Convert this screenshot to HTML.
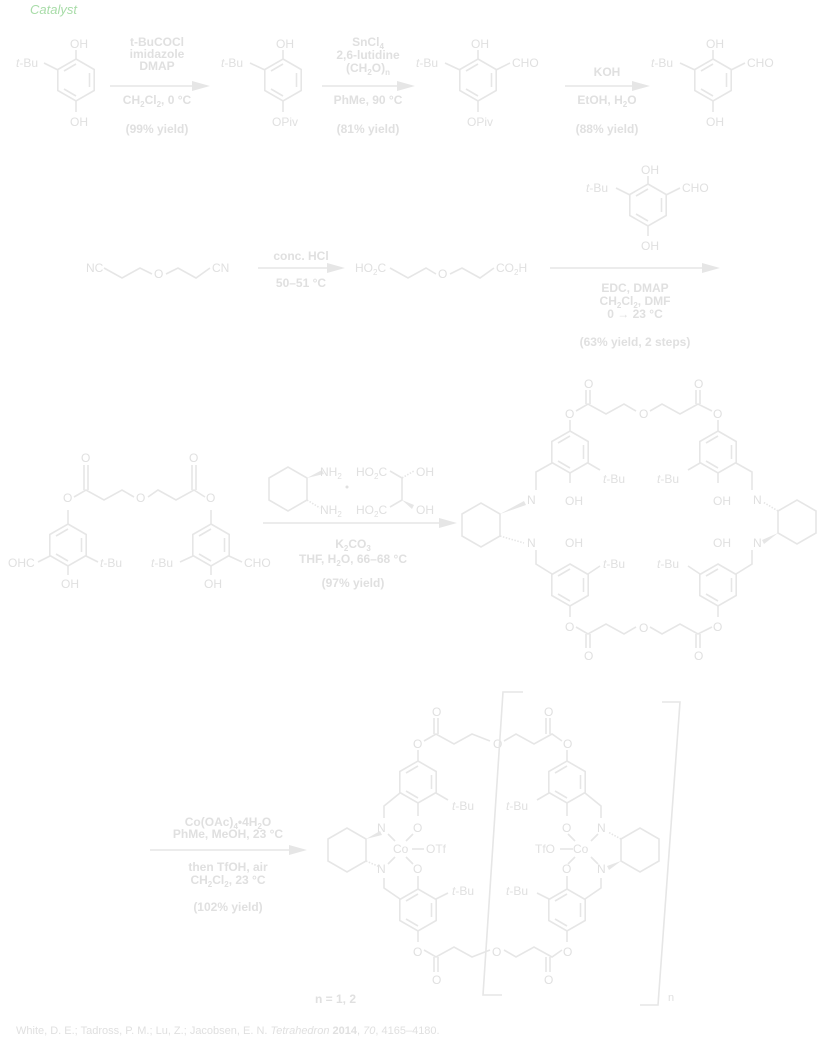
<!DOCTYPE html>
<html><head><meta charset="utf-8"><style>
html,body{margin:0;padding:0;background:#fff;}
svg{display:block}
text{font-family:"Liberation Sans",sans-serif;font-size:12px;fill:#e0e0e0;}
.b{font-weight:bold}
.s{stroke:#e6e6e6;stroke-width:1.6;fill:none}
</style></head><body>
<svg width="825" height="1049" viewBox="0 0 825 1049" xmlns="http://www.w3.org/2000/svg">
<defs>
<g id="hex"><polygon class="s" points="0,-21 18.2,-10.5 18.2,10.5 0,21 -18.2,10.5 -18.2,-10.5"/><line class="s" x1="13.5" y1="-7" x2="13.5" y2="7"/><line class="s" x1="-12" y1="9" x2="0" y2="16"/><line class="s" x1="-12" y1="-9" x2="0" y2="-16"/></g>
<polygon id="chx" class="s" points="-19,-11 0,-22 19,-11 19,11 0,22 -19,11"/>
<g id="arrowhead"><polygon points="0,0 -18,-5 -18,5" fill="#e6e6e6"/></g>
</defs>
<text x="30" y="14" style="font-style:italic;fill:#a8dca8;font-size:13px">Catalyst</text>

<!-- Row 1 -->
<use href="#hex" x="76" y="80"/>
<line class="s" x1="76" y1="59" x2="76" y2="50"/><text x="70" y="48">OH</text>
<line class="s" x1="76" y1="101" x2="76" y2="112"/><text x="70" y="126">OH</text>
<line class="s" x1="58" y1="70" x2="44" y2="63"/><text x="16" y="67"><tspan font-style="italic">t</tspan>-Bu</text>
<line class="s" x1="110" y1="86" x2="195" y2="86"/><use href="#arrowhead" x="210" y="86"/>
<g text-anchor="middle" class="b"><text x="157" y="46">t-BuCOCl</text><text x="157" y="58">imidazole</text><text x="157" y="70">DMAP</text><text x="157" y="104">CH<tspan font-size="8" dy="3">2</tspan><tspan dy="-3">Cl</tspan><tspan font-size="8" dy="3">2</tspan><tspan dy="-3">, 0 °C</tspan></text><text x="157" y="133">(99% yield)</text></g>

<use href="#hex" x="283" y="80"/>
<line class="s" x1="283" y1="59" x2="283" y2="50"/><text x="276" y="48">OH</text>
<line class="s" x1="283" y1="101" x2="283" y2="112"/><text x="272" y="126">OPiv</text>
<line class="s" x1="265" y1="70" x2="250" y2="63"/><text x="221" y="67"><tspan font-style="italic">t</tspan>-Bu</text>
<line class="s" x1="322" y1="86" x2="400" y2="86"/><use href="#arrowhead" x="415" y="86"/>
<g text-anchor="middle" class="b"><text x="368" y="46">SnCl<tspan font-size="8" dy="3">4</tspan></text><text x="368" y="59">2,6-lutidine</text><text x="368" y="72">(CH<tspan font-size="8" dy="3">2</tspan><tspan dy="-3">O)</tspan><tspan font-size="8" dy="3">n</tspan></text><text x="368" y="104">PhMe, 90 °C</text><text x="368" y="133">(81% yield)</text></g>

<use href="#hex" x="478" y="80"/>
<line class="s" x1="478" y1="59" x2="478" y2="50"/><text x="471" y="48">OH</text>
<line class="s" x1="478" y1="101" x2="478" y2="112"/><text x="467" y="126">OPiv</text>
<line class="s" x1="460" y1="70" x2="445" y2="63"/><text x="416" y="67"><tspan font-style="italic">t</tspan>-Bu</text>
<line class="s" x1="496" y1="70" x2="510" y2="63"/><text x="512" y="67">CHO</text>
<line class="s" x1="565" y1="86" x2="635" y2="86"/><use href="#arrowhead" x="650" y="86"/>
<g text-anchor="middle" class="b"><text x="607" y="76">KOH</text><text x="607" y="104">EtOH, H<tspan font-size="8" dy="3">2</tspan><tspan dy="-3">O</tspan></text><text x="607" y="133">(88% yield)</text></g>

<use href="#hex" x="713" y="80"/>
<line class="s" x1="713" y1="59" x2="713" y2="50"/><text x="706" y="48">OH</text>
<line class="s" x1="713" y1="101" x2="713" y2="112"/><text x="706" y="126">OH</text>
<line class="s" x1="695" y1="70" x2="680" y2="63"/><text x="651" y="67"><tspan font-style="italic">t</tspan>-Bu</text>
<line class="s" x1="731" y1="70" x2="745" y2="63"/><text x="747" y="67">CHO</text>

<!-- Row 2 -->
<text x="86" y="272">NC</text>
<polyline class="s" points="104,268 122,278 140,268 152,274"/><text x="154" y="278">O</text>
<polyline class="s" points="166,274 178,268 196,278 210,268"/><text x="212" y="272">CN</text>
<line class="s" x1="258" y1="268" x2="330" y2="268"/><use href="#arrowhead" x="345" y="268"/>
<g text-anchor="middle" class="b"><text x="301" y="260">conc. HCl</text><text x="301" y="287">50–51 °C</text></g>
<text x="355" y="272">HO<tspan font-size="8" dy="3">2</tspan><tspan dy="-3">C</tspan></text>
<polyline class="s" points="390,268 408,278 426,268 436,274"/><text x="438" y="278">O</text>
<polyline class="s" points="450,274 462,268 480,278 494,268"/><text x="496" y="272">CO<tspan font-size="8" dy="3">2</tspan><tspan dy="-3">H</tspan></text>
<use href="#hex" x="648" y="205"/>
<line class="s" x1="648" y1="184" x2="648" y2="176"/><text x="641" y="174">OH</text>
<line class="s" x1="648" y1="226" x2="648" y2="236"/><text x="641" y="250">OH</text>
<line class="s" x1="630" y1="195" x2="616" y2="188"/><text x="586" y="192"><tspan font-style="italic">t</tspan>-Bu</text>
<line class="s" x1="666" y1="195" x2="680" y2="188"/><text x="682" y="192">CHO</text>
<line class="s" x1="550" y1="268" x2="705" y2="268"/><use href="#arrowhead" x="720" y="268"/>
<g text-anchor="middle" class="b"><text x="635" y="292">EDC, DMAP</text><text x="635" y="305">CH<tspan font-size="8" dy="3">2</tspan><tspan dy="-3">Cl</tspan><tspan font-size="8" dy="3">2</tspan><tspan dy="-3">, DMF</tspan></text><text x="635" y="318">0 → 23 °C</text><text x="635" y="346">(63% yield, 2 steps)</text></g>

<!-- Row 3 left -->
<use href="#hex" x="68" y="545"/><use href="#hex" x="211" y="545"/>
<line class="s" x1="68" y1="524" x2="68" y2="510"/><text x="63" y="502">O</text>
<polyline class="s" points="74,497 86,490 104,500 122,490 134,497"/><text x="136" y="502">O</text>
<polyline class="s" points="148,497 158,490 176,500 194,490 205,497"/><text x="206" y="502">O</text>
<line class="s" x1="211" y1="524" x2="211" y2="510"/>
<line class="s" x1="84" y1="490" x2="84" y2="465"/><line class="s" x1="88" y1="490" x2="88" y2="465"/><text x="81" y="462">O</text>
<line class="s" x1="192" y1="490" x2="192" y2="465"/><line class="s" x1="196" y1="490" x2="196" y2="465"/><text x="189" y="462">O</text>
<line class="s" x1="68" y1="566" x2="68" y2="575"/><text x="61" y="588">OH</text>
<line class="s" x1="211" y1="566" x2="211" y2="575"/><text x="204" y="588">OH</text>
<line class="s" x1="50" y1="556" x2="38" y2="562"/><text x="8" y="567">OHC</text>
<line class="s" x1="86" y1="556" x2="98" y2="562"/><text x="100" y="567"><tspan font-style="italic">t</tspan>-Bu</text>
<line class="s" x1="193" y1="556" x2="180" y2="562"/><text x="151" y="567"><tspan font-style="italic">t</tspan>-Bu</text>
<line class="s" x1="229" y1="556" x2="242" y2="562"/><text x="244" y="567">CHO</text>
<use href="#chx" x="288" y="489"/>
<polygon points="307,478 322,470 324,474" fill="#e6e6e6"/><text x="320" y="476">NH<tspan font-size="8" dy="3">2</tspan></text>
<line class="s" x1="307" y1="500" x2="320" y2="508" stroke-dasharray="1.5,1.5"/><text x="320" y="514">NH<tspan font-size="8" dy="3">2</tspan></text>
<circle cx="347" cy="487" r="1.5" fill="#e0e0e0"/>
<text x="356" y="476">HO<tspan font-size="8" dy="3">2</tspan><tspan dy="-3">C</tspan></text><text x="356" y="514">HO<tspan font-size="8" dy="3">2</tspan><tspan dy="-3">C</tspan></text>
<polyline class="s" points="390,471 402,478 402,500 390,507"/>
<line class="s" x1="402" y1="478" x2="414" y2="471" stroke-dasharray="1.5,1.5"/><polygon points="402,500 414,505 412,509" fill="#e6e6e6"/>
<text x="416" y="476">OH</text><text x="416" y="514">OH</text>
<line class="s" x1="263" y1="523" x2="440" y2="523"/><use href="#arrowhead" x="457" y="523"/>
<g text-anchor="middle" class="b"><text x="353" y="548">K<tspan font-size="8" dy="3">2</tspan><tspan dy="-3">CO</tspan><tspan font-size="8" dy="3">3</tspan></text><text x="353" y="563">THF, H<tspan font-size="8" dy="3">2</tspan><tspan dy="-3">O, 66–68 °C</tspan></text><text x="353" y="587">(97% yield)</text></g>

<!-- Macrocycle -->
<use href="#hex" x="570" y="452"/><use href="#hex" x="718" y="452"/>
<use href="#hex" x="570" y="585"/><use href="#hex" x="718" y="585"/>
<line class="s" x1="570" y1="431" x2="570" y2="420"/><text x="565" y="418">O</text>
<polyline class="s" points="576,411 588,404 606,414 624,404 636,411"/><text x="639" y="418">O</text>
<polyline class="s" points="650,411 662,404 680,414 698,404 712,411"/><text x="713" y="418">O</text>
<line class="s" x1="718" y1="431" x2="718" y2="420"/>
<line class="s" x1="586" y1="404" x2="586" y2="390"/><line class="s" x1="590" y1="404" x2="590" y2="390"/><text x="584" y="388">O</text>
<line class="s" x1="696" y1="404" x2="696" y2="390"/><line class="s" x1="700" y1="404" x2="700" y2="390"/><text x="694" y="388">O</text>
<line class="s" x1="570" y1="606" x2="570" y2="617"/><text x="565" y="631">O</text>
<polyline class="s" points="576,627 588,634 606,624 624,634 636,627"/><text x="639" y="632">O</text>
<polyline class="s" points="650,627 662,634 680,624 698,634 712,627"/><text x="713" y="631">O</text>
<line class="s" x1="718" y1="606" x2="718" y2="617"/>
<line class="s" x1="586" y1="634" x2="586" y2="648"/><line class="s" x1="590" y1="634" x2="590" y2="648"/><text x="584" y="660">O</text>
<line class="s" x1="696" y1="634" x2="696" y2="648"/><line class="s" x1="700" y1="634" x2="700" y2="648"/><text x="694" y="660">O</text>
<line class="s" x1="570" y1="473" x2="570" y2="483"/><text x="565" y="505">OH</text>
<line class="s" x1="718" y1="473" x2="718" y2="483"/><text x="713" y="505">OH</text>
<text x="565" y="547">OH</text><text x="713" y="547">OH</text>
<line class="s" x1="588" y1="463" x2="600" y2="470"/><text x="603" y="483"><tspan font-style="italic">t</tspan>-Bu</text>
<line class="s" x1="700" y1="463" x2="688" y2="470"/><text x="657" y="483"><tspan font-style="italic">t</tspan>-Bu</text>
<line class="s" x1="588" y1="574" x2="600" y2="566"/><text x="603" y="568"><tspan font-style="italic">t</tspan>-Bu</text>
<line class="s" x1="700" y1="574" x2="688" y2="566"/><text x="657" y="568"><tspan font-style="italic">t</tspan>-Bu</text>
<polyline class="s" points="552,463 536,472 536,490"/><text x="527" y="504">N</text>
<polyline class="s" points="552,574 536,564 536,550"/><text x="527" y="547">N</text>
<polyline class="s" points="736,463 752,472 752,490"/><text x="753" y="504">N</text>
<polyline class="s" points="736,574 752,564 752,550"/><text x="753" y="547">N</text>
<use href="#chx" x="481" y="525"/><use href="#chx" x="797" y="522"/>
<polygon points="500,514 524,501 526,505" fill="#e6e6e6"/>
<line class="s" x1="500" y1="536" x2="524" y2="543" stroke-dasharray="1.5,1.5"/>
<line class="s" x1="778" y1="511" x2="763" y2="502" stroke-dasharray="1.5,1.5"/>
<polygon points="778,533 762,540 764,544" fill="#e6e6e6"/>

<!-- Row 4 -->
<line class="s" x1="150" y1="850" x2="290" y2="850"/><use href="#arrowhead" x="307" y="850"/>
<g text-anchor="middle" class="b"><text x="228" y="826">Co(OAc)<tspan font-size="8" dy="3">4</tspan><tspan dy="-3">•4H</tspan><tspan font-size="8" dy="3">2</tspan><tspan dy="-3">O</tspan></text><text x="228" y="838">PhMe, MeOH, 23 °C</text><text x="228" y="871">then TfOH, air</text><text x="228" y="884">CH<tspan font-size="8" dy="3">2</tspan><tspan dy="-3">Cl</tspan><tspan font-size="8" dy="3">2</tspan><tspan dy="-3">, 23 °C</tspan></text><text x="228" y="911">(102% yield)</text></g>
<use href="#hex" x="418" y="782"/><use href="#hex" x="418" y="910"/>
<use href="#hex" x="567" y="782"/><use href="#hex" x="567" y="910"/>
<line class="s" x1="418" y1="761" x2="418" y2="750"/><text x="413" y="748">O</text>
<polyline class="s" points="424,741 436,734 454,744 472,734 490,741"/><text x="493" y="748">O</text>
<polyline class="s" points="504,741 516,734 534,744 552,734 562,741"/><text x="563" y="748">O</text>
<line class="s" x1="567" y1="761" x2="567" y2="750"/>
<line class="s" x1="434" y1="734" x2="434" y2="718"/><line class="s" x1="438" y1="734" x2="438" y2="718"/><text x="432" y="716">O</text>
<line class="s" x1="546" y1="734" x2="546" y2="718"/><line class="s" x1="550" y1="734" x2="550" y2="718"/><text x="544" y="716">O</text>
<line class="s" x1="418" y1="931" x2="418" y2="942"/><text x="413" y="956">O</text>
<polyline class="s" points="424,950 436,957 454,947 472,957 490,950"/><text x="492" y="956">O</text>
<polyline class="s" points="504,950 516,957 534,947 552,957 562,950"/><text x="563" y="956">O</text>
<line class="s" x1="567" y1="931" x2="567" y2="942"/>
<line class="s" x1="434" y1="957" x2="434" y2="972"/><line class="s" x1="438" y1="957" x2="438" y2="972"/><text x="432" y="984">O</text>
<line class="s" x1="546" y1="957" x2="546" y2="972"/><line class="s" x1="550" y1="957" x2="550" y2="972"/><text x="544" y="984">O</text>
<line class="s" x1="418" y1="803" x2="418" y2="816"/><text x="413" y="832">O</text>
<line class="s" x1="418" y1="889" x2="418" y2="876"/><text x="413" y="873">O</text>
<line class="s" x1="567" y1="803" x2="567" y2="816"/><text x="562" y="832">O</text>
<line class="s" x1="567" y1="889" x2="567" y2="876"/><text x="562" y="873">O</text>
<polyline class="s" points="400,793 384,806 384,818"/><text x="377" y="832">N</text>
<polyline class="s" points="400,899 384,888 384,878"/><text x="377" y="873">N</text>
<polyline class="s" points="585,793 601,806 601,818"/><text x="597" y="832">N</text>
<polyline class="s" points="585,899 601,888 601,878"/><text x="597" y="873">N</text>
<text x="393" y="853">Co</text><text x="573" y="853">Co</text>
<line class="s" x1="412" y1="849" x2="424" y2="849"/><text x="426" y="853">OTf</text>
<line class="s" x1="560" y1="849" x2="573" y2="849"/><text x="535" y="853">TfO</text>
<line class="s" x1="388" y1="834" x2="395" y2="841"/><line class="s" x1="413" y1="834" x2="406" y2="841"/>
<line class="s" x1="388" y1="864" x2="395" y2="857"/><line class="s" x1="413" y1="864" x2="406" y2="857"/>
<line class="s" x1="568" y1="834" x2="575" y2="841"/><line class="s" x1="598" y1="834" x2="591" y2="841"/>
<line class="s" x1="568" y1="864" x2="575" y2="857"/><line class="s" x1="598" y1="864" x2="591" y2="857"/>
<line class="s" x1="436" y1="793" x2="448" y2="800"/><text x="452" y="810"><tspan font-style="italic">t</tspan>-Bu</text>
<line class="s" x1="436" y1="899" x2="448" y2="893"/><text x="452" y="895"><tspan font-style="italic">t</tspan>-Bu</text>
<line class="s" x1="549" y1="793" x2="537" y2="800"/><text x="506" y="810"><tspan font-style="italic">t</tspan>-Bu</text>
<line class="s" x1="549" y1="899" x2="537" y2="893"/><text x="506" y="895"><tspan font-style="italic">t</tspan>-Bu</text>
<use href="#chx" x="347" y="850"/><use href="#chx" x="640" y="850"/>
<polygon points="366,839 380,831 382,835" fill="#e6e6e6"/>
<line class="s" x1="366" y1="861" x2="380" y2="867" stroke-dasharray="1.5,1.5"/>
<line class="s" x1="621" y1="839" x2="608" y2="832" stroke-dasharray="1.5,1.5"/>
<polygon points="621,861 607,866 609,870" fill="#e6e6e6"/>
<polyline class="s" points="523,692 503,692 483,995 502,995"/>
<polyline class="s" points="662,702 680,702 658,1005 640,1005"/>
<text x="668" y="1001" style="font-size:11px">n</text>
<text x="315" y="1003" class="b">n = 1, 2</text>
<text x="16" y="1034" style="font-size:11px">White, D. E.; Tadross, P. M.; Lu, Z.; Jacobsen, E. N. <tspan font-style="italic">Tetrahedron</tspan> <tspan font-weight="bold">2014</tspan>, <tspan font-style="italic">70</tspan>, 4165–4180.</text>
</svg>
</body></html>
